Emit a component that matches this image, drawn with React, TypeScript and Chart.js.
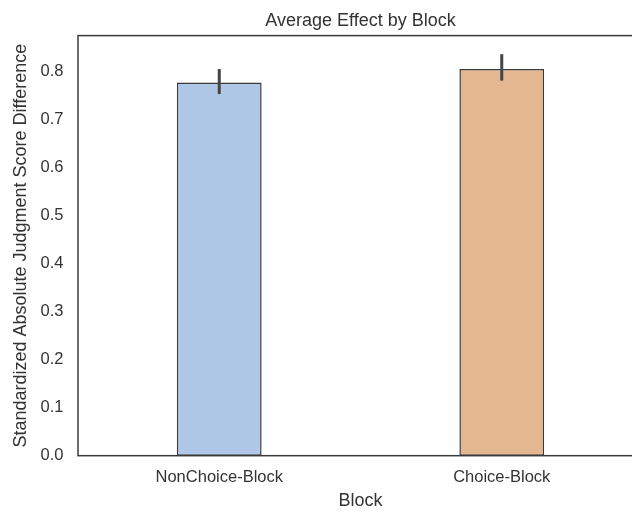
import React, { useEffect, useRef } from "react";
import { Chart, registerables } from "chart.js";

Chart.register(...registerables);

// Mean effect per block with 95% CI bounds
const categories = ["NonChoice-Block", "Choice-Block"];
const meanEffect = [0.776, 0.804];
const ciLow = [0.752, 0.780];
const ciHigh = [0.804, 0.835];
const yTicks = [0.0, 0.1, 0.2, 0.3, 0.4, 0.5, 0.6, 0.7, 0.8];
const barColors = ["#b0c8e8", "#e4b791"];
const chartTitle = "Average Effect by Block";

const FONT = "'Liberation Sans', Arial, Helvetica, sans-serif";
const TEXT = "#333333";
const EDGE = "#3a3a3a";

// Draws the axes frame (left, top, bottom), the confidence-interval whiskers,
// and the title centred over the plot area
const framePlugin = {
  id: "frameAndErrors",
  afterDatasetsDraw(chart: any) {
    const { ctx, chartArea, scales } = chart;
    const x = scales.x;
    const y = scales.y;
    ctx.save();
    ctx.strokeStyle = "#444444";
    ctx.lineWidth = 3;
    ctx.lineCap = "butt";
    categories.forEach((_, i) => {
      const px = x.getPixelForValue(i);
      ctx.beginPath();
      ctx.moveTo(px, y.getPixelForValue(ciLow[i]));
      ctx.lineTo(px, y.getPixelForValue(ciHigh[i]));
      ctx.stroke();
    });
    ctx.strokeStyle = EDGE;
    ctx.lineWidth = 1.5;
    ctx.strokeRect(chartArea.left, chartArea.top, chartArea.right - chartArea.left, chartArea.bottom - chartArea.top);

    ctx.fillStyle = TEXT;
    ctx.font = `18px ${FONT}`;
    ctx.textAlign = "center";
    ctx.textBaseline = "middle";
    ctx.fillText(chartTitle, (chartArea.left + chartArea.right) / 2, 21);
    ctx.restore();
  },
};

export default function App() {
  const canvasRef = useRef<HTMLCanvasElement | null>(null);

  useEffect(() => {
    if (!canvasRef.current) return;
    const chart = new Chart(canvasRef.current, {
      type: "bar",
      data: {
        labels: categories,
        datasets: [
          {
            data: meanEffect,
            backgroundColor: barColors,
            borderColor: EDGE,
            borderWidth: 1.5,
            borderSkipped: false,
            categoryPercentage: 1,
            barPercentage: 0.3,
          },
        ],
      },
      options: {
        responsive: false,
        animation: false,
        layout: { padding: { left: 0, right: 17, top: 35.6, bottom: 0 } },
        plugins: {
          legend: { display: false },
          tooltip: { enabled: false },
          title: { display: false },
        },
        scales: {
          x: {
            grid: { display: false, drawTicks: false },
            border: { display: false },
            ticks: {
              color: TEXT,
              font: { family: FONT, size: 16.5 },
              padding: 12,
            },
            title: {
              display: true,
              text: "Block",
              color: TEXT,
              font: { family: FONT, size: 18 },
              padding: { top: 0, bottom: 1 },
            },
            afterFit(scale: any) {
              scale.height = 57.3;
            },
          },
          y: {
            min: 0,
            max: 0.8736,
            grid: { display: false, drawTicks: false },
            border: { display: false },
            afterBuildTicks(scale: any) {
              scale.ticks = yTicks.map((v) => ({ value: v }));
            },
            ticks: {
              color: TEXT,
              font: { family: FONT, size: 16.5 },
              padding: 14.5,
              callback: (v: any) => Number(v).toFixed(1),
            },
            title: {
              display: true,
              text: "Standardized Absolute Judgment Score Difference",
              color: TEXT,
              font: { family: FONT, size: 18 },
              padding: { top: 10, bottom: 0 },
            },
            afterFit(scale: any) {
              scale.width = 78;
            },
          },
        },
      },
      plugins: [framePlugin],
    });
    return () => chart.destroy();
  }, []);

  return (
    <div style={{ position: "fixed", left: 0, top: 0, width: 660, height: 513, background: "#ffffff" }}>
      <canvas ref={canvasRef} width={660} height={513} />
    </div>
  );
}
